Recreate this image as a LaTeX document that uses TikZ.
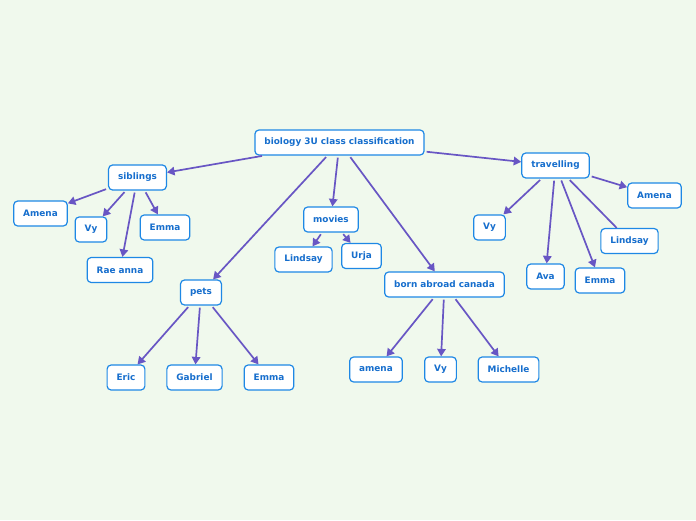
\documentclass[tikz,border=0pt]{standalone}
\usepackage{fontspec}
\setmainfont{DejaVu Sans}
\usepackage{tikz}
\usetikzlibrary{arrows.meta}
\definecolor{MapBack}{RGB}{240,249,237}
\definecolor{MapBlue}{RGB}{30,136,229}
\definecolor{MapText}{RGB}{22,110,205}
\definecolor{MapPurple}{RGB}{104,86,196}

\begin{document}
\begin{tikzpicture}[x=1pt, y=-1pt,
          topic/.style={rectangle, rounded corners=4pt, draw=MapBlue, line width=1.2pt,
                        fill=white, minimum height=25pt, inner xsep=9.5pt, inner ysep=2pt,
                        text=MapText, font=\fontsize{8.9}{10}\selectfont\bfseries},
          arr/.style={-{Triangle[length=7.5pt,width=8.5pt]}, draw=MapPurple, line width=1.7pt,
                      shorten <=2pt},
          lnk/.style={draw=MapPurple, line width=1.7pt, shorten <=2pt}
        ]
        \useasboundingbox (0,0) rectangle (696,520);
        \fill[MapBack] (0,0) rectangle (696,520);

        % central topic
        \node[topic] (root) at (339.5,142.5) {biology 3U class classification};

        % siblings
        \node[topic] (sib)     at (137.5,177.5) {siblings};
        \node[topic] (sibamen) at (40.5,213.5)  {Amena};
        \node[topic] (sibvy)   at (91,229.5)    {Vy};
        \node[topic] (sibemma) at (165,227.5)   {Emma};
        \node[topic] (sibrae)  at (120,270)     {Rae anna};

        % pets
        \node[topic] (pets)     at (201,292.5)   {pets};
        \node[topic] (peteric)  at (126,377.5)   {Eric};
        \node[topic] (petgab)   at (194.5,377.5) {Gabriel};
        \node[topic] (petemma)  at (269,377.5)   {Emma};

        % movies
        \node[topic] (mov)     at (331,219.5)   {movies};
        \node[topic] (movlind) at (303.5,259.5) {Lindsay};
        \node[topic] (movurja) at (361.5,256)   {Urja};

        % born abroad
        \node[topic] (born)     at (444.5,284.5) {born abroad canada};
        \node[topic] (bornamen) at (376,369.5)   {amena};
        \node[topic] (bornvy)   at (440.5,369.5) {Vy};
        \node[topic] (bornmich) at (508.5,369.5) {Michelle};

        % travelling
        \node[topic] (trav)     at (555.5,165.5) {travelling};
        \node[topic] (travamen) at (654.5,195.5) {Amena};
        \node[topic] (travvy)   at (489.5,227.5) {Vy};
        \node[topic] (travlind) at (629.5,241)   {Lindsay};
        \node[topic] (travava)  at (545.5,276.5) {Ava};
        \node[topic] (travemma) at (600,280.5)   {Emma};

        \draw[arr] (root) -- (sib);
        \draw[arr] (root) -- (pets);
        \draw[arr] (root) -- (mov);
        \draw[arr] (root) -- (born);
        \draw[arr] (root) -- (trav);

        \draw[arr] (sib) -- (sibamen);
        \draw[arr] (sib) -- (sibvy);
        \draw[arr] (sib) -- (sibemma);
        \draw[arr] (sib) -- (sibrae);

        \draw[arr] (pets) -- (peteric);
        \draw[arr] (pets) -- (petgab);
        \draw[arr] (pets) -- (petemma);

        \draw[arr] (mov) -- (movlind);
        \draw[arr] (mov) -- (movurja);

        \draw[arr] (born) -- (bornamen);
        \draw[arr] (born) -- (bornvy);
        \draw[arr] (born) -- (bornmich);

        \draw[arr] (trav) -- (travamen);
        \draw[arr] (trav) -- (travvy);
        \draw[lnk] (trav) -- (travlind);
        \draw[arr] (trav) -- (travava);
        \draw[arr] (trav) -- (travemma);
      \end{tikzpicture}
\end{document}
